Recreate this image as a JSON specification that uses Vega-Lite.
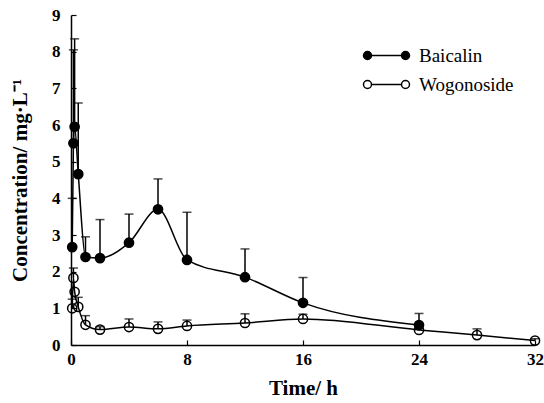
{
  "$schema": "https://vega.github.io/schema/vega-lite/v6.json",
  "width": 464,
  "height": 330,
  "autosize": {"type": "none"},
  "padding": {"left": 71, "top": 15, "right": 9, "bottom": 58},
  "background": "white",
  "config": {
    "view": {"stroke": null},
    "font": "Liberation Serif",
    "legend": {"labelFont": "Liberation Serif", "labelFontSize": 19, "labelColor": "black"},
    "axis": {
      "domainColor": "black",
      "domainWidth": 1.5,
      "tickColor": "black",
      "tickWidth": 1.2,
      "tickSize": -5,
      "grid": false,
      "labelFont": "Liberation Serif",
      "labelFontWeight": "bold",
      "labelFontSize": 17,
      "labelColor": "black",
      "titleFont": "Liberation Serif",
      "titleFontWeight": "bold",
      "titleFontSize": 21,
      "titleColor": "black"
    }
  },
  "data": {
    "values": [
      {"series": "Baicalin", "time": 0.083, "value": 2.67, "upper": 4.0},
      {"series": "Baicalin", "time": 0.167, "value": 5.5, "upper": 8.05},
      {"series": "Baicalin", "time": 0.25, "value": 5.95, "upper": 8.35},
      {"series": "Baicalin", "time": 0.5, "value": 4.66, "upper": 6.6},
      {"series": "Baicalin", "time": 1, "value": 2.4, "upper": 2.95},
      {"series": "Baicalin", "time": 2, "value": 2.37, "upper": 3.42},
      {"series": "Baicalin", "time": 4, "value": 2.79, "upper": 3.57},
      {"series": "Baicalin", "time": 6, "value": 3.7, "upper": 4.53},
      {"series": "Baicalin", "time": 8, "value": 2.32, "upper": 3.62},
      {"series": "Baicalin", "time": 12, "value": 1.85, "upper": 2.62},
      {"series": "Baicalin", "time": 16, "value": 1.15, "upper": 1.84},
      {"series": "Baicalin", "time": 24, "value": 0.545, "upper": 0.86},
      {"series": "Wogonoside", "time": 0.083, "value": 1.0, "upper": 1.25},
      {"series": "Wogonoside", "time": 0.167, "value": 1.83, "upper": 2.1},
      {"series": "Wogonoside", "time": 0.25, "value": 1.45, "upper": null},
      {"series": "Wogonoside", "time": 0.5, "value": 1.04, "upper": 1.3},
      {"series": "Wogonoside", "time": 1, "value": 0.55, "upper": 0.8},
      {"series": "Wogonoside", "time": 2, "value": 0.42, "upper": 0.5},
      {"series": "Wogonoside", "time": 4, "value": 0.49, "upper": 0.71},
      {"series": "Wogonoside", "time": 6, "value": 0.44, "upper": 0.63},
      {"series": "Wogonoside", "time": 8, "value": 0.52, "upper": 0.68},
      {"series": "Wogonoside", "time": 12, "value": 0.6, "upper": 0.85},
      {"series": "Wogonoside", "time": 16, "value": 0.71, "upper": 0.84},
      {"series": "Wogonoside", "time": 24, "value": 0.41, "upper": null},
      {"series": "Wogonoside", "time": 28, "value": 0.27, "upper": 0.44},
      {"series": "Wogonoside", "time": 32, "value": 0.12, "upper": 0.17}
    ]
  },
  "encoding": {
    "x": {
      "field": "time",
      "type": "quantitative",
      "scale": {"domain": [0, 32], "nice": false, "zero": true},
      "axis": {"values": [0, 8, 16, 24, 32], "title": "Time/ h", "labelPadding": 11, "titlePadding": 10, "labelFlush": false}
    },
    "y": {
      "field": "value",
      "type": "quantitative",
      "scale": {"domain": [0, 9], "nice": false},
      "axis": {"values": [0, 1, 2, 3, 4, 5, 6, 7, 8, 9], "title": "Concentration/ mg·L⁻¹", "labelPadding": 16, "titlePadding": 21, "labelFlush": false}
    }
  },
  "layer": [
    {
      "mark": {"type": "line", "interpolate": "monotone", "color": "black", "strokeWidth": 1.5},
      "encoding": {"detail": {"field": "series"}}
    },
    {
      "transform": [{"filter": "datum.upper != null"}],
      "mark": {"type": "rule", "color": "black", "strokeWidth": 1.5},
      "encoding": {"y2": {"field": "upper"}}
    },
    {
      "transform": [{"filter": "datum.upper != null"}],
      "mark": {"type": "tick", "orient": "horizontal", "color": "black", "size": 9, "thickness": 1.5},
      "encoding": {"y": {"field": "upper", "type": "quantitative"}}
    },
    {
      "mark": {"type": "point", "shape": "circle", "filled": true, "stroke": "black", "strokeWidth": 1.5, "size": 85, "opacity": 1},
      "encoding": {
        "fill": {
          "field": "series",
          "type": "nominal",
          "scale": {"domain": ["Baicalin", "Wogonoside"], "range": ["black", "transparent"]},
          "legend": {
            "title": null,
            "orient": "none",
            "legendX": 306,
            "legendY": 31,
            "symbolType": "M-4.6,0A0.8,0.8,0,1,1,-3,0A0.8,0.8,0,1,1,-4.6,0ZM-3,0L3,0M3,0A0.8,0.8,0,1,1,4.6,0A0.8,0.8,0,1,1,3,0Z",
            "symbolSize": 100,
            "symbolStrokeColor": "black",
            "symbolStrokeWidth": 1.5,
            "labelFont": "Liberation Serif",
            "labelFontSize": 19,
            "labelColor": "black",
            "labelOffset": 23,
            "rowPadding": 9
          }
        }
      }
    }
  ]
}
